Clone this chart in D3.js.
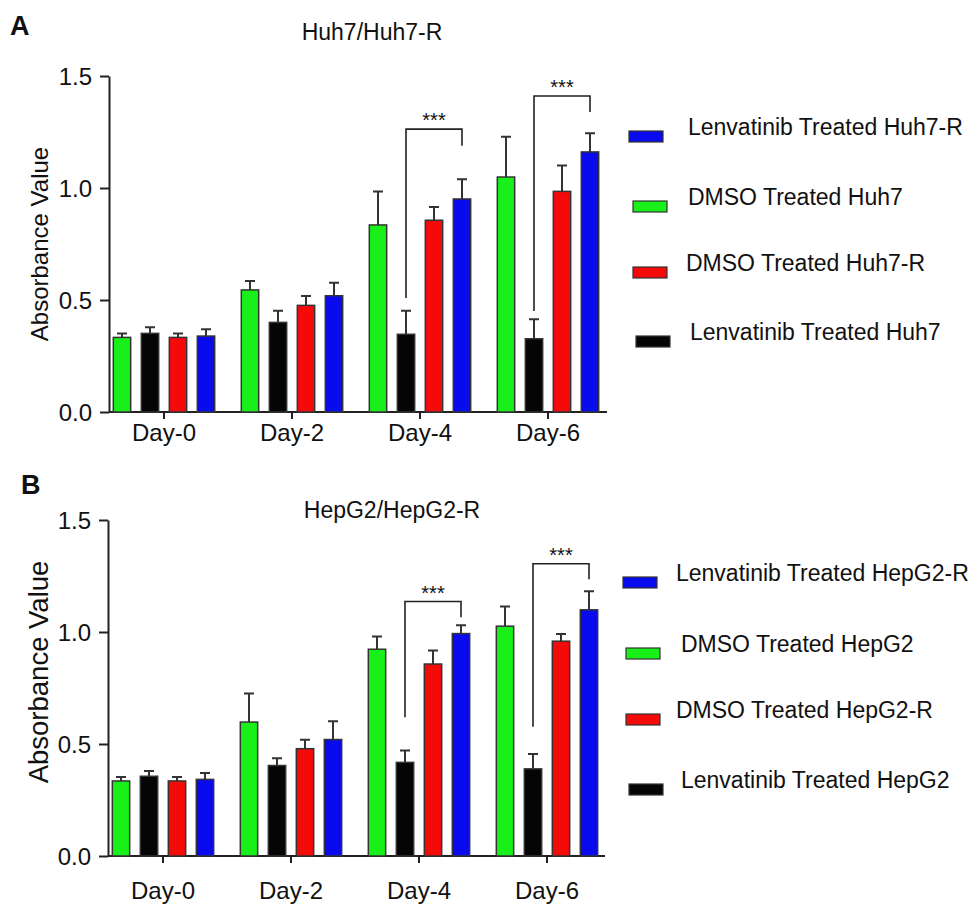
<!DOCTYPE html>
<html>
<head>
<meta charset="utf-8">
<script src="https://cdn.jsdelivr.net/npm/d3@7"></script>
<style>
  body { margin: 0; background: #fff; }
  svg text { font-family: "Liberation Sans", Arial, sans-serif; fill: #111; }
</style>
</head>
<body>
<div id="chart"></div>
<script>
// x categories + the order the 4 bars sit in each group
const days = ['Day-0', 'Day-2', 'Day-4', 'Day-6']
const seriesKeys = ['dmso', 'lenv', 'dmsoR', 'lenvR']
const legendOrder = ['lenvR', 'dmso', 'dmsoR', 'lenv']
const yTicks = [0, 0.5, 1.0, 1.5]

// panel A - Huh7 / Huh7-R (mean, then upper error)
const huh7Dmso = [0.333, 0.545, 0.835, 1.049]
const huh7DmsoErr = [0.018, 0.040, 0.149, 0.180]
const huh7Lenv = [0.351, 0.400, 0.347, 0.327]
const huh7LenvErr = [0.027, 0.052, 0.105, 0.087]
const huh7RDmso = [0.333, 0.476, 0.856, 0.985]
const huh7RDmsoErr = [0.018, 0.042, 0.059, 0.115]
const huh7RLenv = [0.339, 0.519, 0.951, 1.161]
const huh7RLenvErr = [0.030, 0.058, 0.088, 0.083]

// panel B - HepG2 / HepG2-R
const hepDmso = [0.335, 0.598, 0.923, 1.026]
const hepDmsoErr = [0.018, 0.128, 0.057, 0.088]
const hepLenv = [0.356, 0.404, 0.418, 0.389]
const hepLenvErr = [0.024, 0.032, 0.053, 0.066]
const hepRDmso = [0.335, 0.479, 0.857, 0.959]
const hepRDmsoErr = [0.018, 0.040, 0.060, 0.032]
const hepRLenv = [0.342, 0.520, 0.993, 1.099]
const hepRLenvErr = [0.029, 0.082, 0.037, 0.083]

const huh7Names = ['DMSO Treated Huh7', 'Lenvatinib Treated Huh7', 'DMSO Treated Huh7-R', 'Lenvatinib Treated Huh7-R']
const hepNames = ['DMSO Treated HepG2', 'Lenvatinib Treated HepG2', 'DMSO Treated HepG2-R', 'Lenvatinib Treated HepG2-R']

// *** brackets: black bar -> blue bar. top of bracket, left leg end, right leg end
const huh7Sig = [
  { day: 'Day-4', top: 1.263, left: 0.509, right: 1.189 },
  { day: 'Day-6', top: 1.411, left: 0.451, right: 1.339 }
]
const hepSig = [
  { day: 'Day-4', top: 1.136, left: 0.619, right: 1.066 },
  { day: 'Day-6', top: 1.305, left: 0.577, right: 1.236 }
]

const colors = { dmso: '#19ef19', lenv: '#050505', dmsoR: '#f50a0a', lenvR: '#0a0aee' }

function buildRows(names, vals, errs) {
  return days.map((day, i) => ({
    day: day,
    bars: seriesKeys.map((k, j) => ({ key: k, name: names[j], value: vals[j][i], err: errs[j][i] }))
  }))
}

const panels = [
  {
    letter: 'A', letterPos: [10, 35], title: 'Huh7/Huh7-R', titlePos: [372, 40],
    yRange: [412, 76], axisX: 109, axisEnd: 607, groupRange: [100, 612],
    yLabelPos: [48, 244], yLabelSize: 24, dayY: 441,
    rows: buildRows(huh7Names, [huh7Dmso, huh7Lenv, huh7RDmso, huh7RLenv], [huh7DmsoErr, huh7LenvErr, huh7RDmsoErr, huh7RLenvErr]),
    names: huh7Names, sig: huh7Sig,
    legend: { swatchX: [629, 633, 633, 636], textX: [688, 688, 686, 690], y: [132, 202, 268, 337] }
  },
  {
    letter: 'B', letterPos: [21, 494], title: 'HepG2/HepG2-R', titlePos: [392, 518],
    yRange: [856, 520], axisX: 108, axisEnd: 605, groupRange: [99, 611],
    yLabelPos: [48, 672], yLabelSize: 27.5, dayY: 899,
    rows: buildRows(hepNames, [hepDmso, hepLenv, hepRDmso, hepRLenv], [hepDmsoErr, hepLenvErr, hepRDmsoErr, hepRLenvErr]),
    names: hepNames, sig: hepSig,
    legend: { swatchX: [623, 626, 626, 629], textX: [676, 681, 676, 681], y: [578, 649, 715, 785] }
  }
]

const svg = d3.select('#chart').append('svg')
  .attr('width', 979)
  .attr('height', 904)

panels.forEach(p => {
  const g = svg.append('g')

  const yScale = d3.scaleLinear().domain([0, 1.5]).range(p.yRange)
  const xGroup = d3.scaleBand().domain(days).range(p.groupRange)
  // bars inside a group, 112px wide block centred on the tick
  const xBar = d3.scaleBand().domain(seriesKeys).range([-56, 56]).paddingInner(0.38).paddingOuter(0.19)

  // axes first so bars sit on top of the baseline
  const yAxis = d3.axisLeft(yScale).tickValues(yTicks).tickFormat(d3.format('.1f')).tickSize(9).tickSizeOuter(0)
  const yg = g.append('g')
    .attr('transform', 'translate(' + p.axisX + ',0)')
    .call(yAxis)
  yg.selectAll('text').attr('font-size', 24).attr('x', -17).attr('dy', '0.36em').style('fill', '#111')

  const xAxis = d3.axisBottom(xGroup).tickSize(7).tickSizeOuter(0)
  const xg = g.append('g')
    .attr('transform', 'translate(0,' + p.yRange[0] + ')')
    .call(xAxis)
  xg.select('.domain').attr('d', 'M' + p.axisX + ',0H' + p.axisEnd)
  xg.selectAll('text').attr('font-size', 24).attr('y', p.dayY - p.yRange[0]).attr('dy', 0).style('fill', '#111')

  g.selectAll('.domain, .tick line').attr('stroke', '#222').attr('stroke-width', 2)

  const groups = g.selectAll('.group')
    .data(p.rows)
    .join('g')
    .attr('class', 'group')
    .attr('transform', d => 'translate(' + (xGroup(d.day) + xGroup.bandwidth() / 2) + ',0)')

  // error bars (upper only)
  groups.selectAll('.err')
    .data(d => d.bars)
    .join('path')
    .attr('class', 'err')
    .attr('fill', 'none')
    .attr('stroke', '#333')
    .attr('stroke-width', 2)
    .attr('d', d => {
      const cx = xBar(d.key) + xBar.bandwidth() / 2
      const top = yScale(d.value + d.err)
      return 'M' + cx + ',' + yScale(d.value) + 'V' + top + 'M' + (cx - 5) + ',' + top + 'H' + (cx + 5)
    })

  groups.selectAll('rect')
    .data(d => d.bars)
    .join('rect')
    .attr('x', d => xBar(d.key))
    .attr('width', xBar.bandwidth())
    .attr('y', d => yScale(d.value))
    .attr('height', d => yScale(0) - yScale(d.value))
    .attr('fill', d => colors[d.key])
    .attr('stroke', '#333')
    .attr('stroke-width', 1.5)

  // significance brackets
  const barCenter = (day, key) => xGroup(day) + xGroup.bandwidth() / 2 + xBar(key) + xBar.bandwidth() / 2
  g.selectAll('.sig')
    .data(p.sig)
    .join('path')
    .attr('class', 'sig')
    .attr('fill', 'none')
    .attr('stroke', '#222')
    .attr('stroke-width', 1.6)
    .attr('d', d => 'M' + barCenter(d.day, 'lenv') + ',' + yScale(d.left) +
      'V' + yScale(d.top) + 'H' + barCenter(d.day, 'lenvR') + 'V' + yScale(d.right))

  g.selectAll('.stars')
    .data(p.sig)
    .join('text')
    .attr('class', 'stars')
    .attr('x', d => (barCenter(d.day, 'lenv') + barCenter(d.day, 'lenvR')) / 2)
    .attr('y', d => yScale(d.top) - 2)
    .attr('text-anchor', 'middle')
    .attr('font-size', 20)
    .text('***')

  // labels
  g.append('text')
    .attr('x', p.letterPos[0]).attr('y', p.letterPos[1])
    .attr('font-size', 27).attr('font-weight', 'bold')
    .text(p.letter)

  g.append('text')
    .attr('x', p.titlePos[0]).attr('y', p.titlePos[1])
    .attr('text-anchor', 'middle')
    .attr('font-size', 23)
    .text(p.title)

  g.append('text')
    .attr('transform', 'translate(' + p.yLabelPos[0] + ',' + p.yLabelPos[1] + ') rotate(-90)')
    .attr('text-anchor', 'middle')
    .attr('font-size', p.yLabelSize)
    .text('Absorbance Value')

  // legend
  const leg = g.selectAll('.leg')
    .data(legendOrder)
    .join('g')
    .attr('class', 'leg')

  leg.append('rect')
    .attr('x', (d, i) => p.legend.swatchX[i])
    .attr('y', (d, i) => p.legend.y[i] - 1)
    .attr('width', 34)
    .attr('height', 11)
    .attr('fill', d => colors[d])
    .attr('stroke', '#333')
    .attr('stroke-width', 1.2)

  leg.append('text')
    .attr('x', (d, i) => p.legend.textX[i])
    .attr('y', (d, i) => p.legend.y[i] + 3)
    .attr('font-size', 23)
    .text(d => p.names[seriesKeys.indexOf(d)])
})
</script>
</body>
</html>
